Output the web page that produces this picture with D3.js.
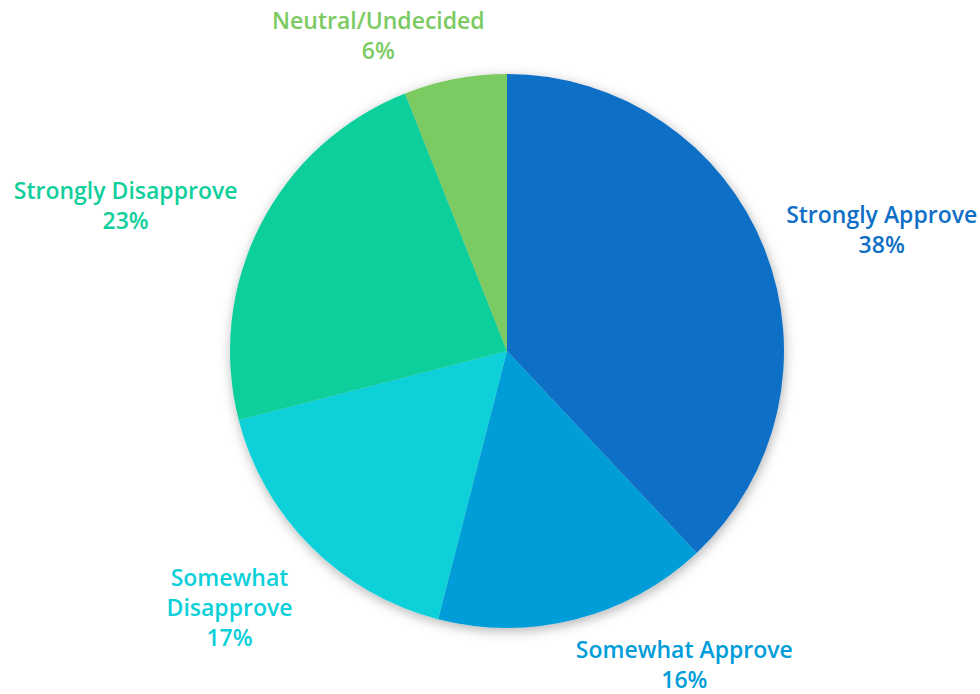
<!DOCTYPE html>
<html>
<head>
<meta charset="utf-8">
<script src="https://cdn.jsdelivr.net/npm/d3@7"></script>
<style>
  html, body { margin: 0; padding: 0; background: #fff; }
  svg { display: block; }
  .lbl { font-family: "Open Sans", "Liberation Sans", sans-serif; font-size: 23px; font-weight: 600; }
</style>
</head>
<body>
<svg id="chart"></svg>
<script>
// chart data, in drawing order (clockwise from 12 o'clock)
const categories = ["Strongly Approve", "Somewhat Approve", "Somewhat Disapprove", "Strongly Disapprove", "Neutral/Undecided"];
const shares = [38, 16, 17, 23, 6];
const colors = ["#0f6fc6", "#009dd9", "#0bd0d9", "#10cf9b", "#7cca62"];
// how each label is broken into lines
const labelLines = [
    ["Strongly Approve"],
    ["Somewhat Approve"],
    ["Somewhat", "Disapprove"],
    ["Strongly Disapprove"],
    ["Neutral/Undecided"]
];

const width = 980;
const height = 694;
const cx = 507, cy = 351, radius = 277;
const lineH = 30;
// small hand tweaks to where the outside labels ended up
const labelNudge = [[19, -3], [79, 8], [-30, 23], [-26, 0], [-55, -3]];

const svg = d3.select("#chart")
    .attr("width", width)
    .attr("height", height);

const defs = svg.append("defs");
const filter = defs.append("filter")
    .attr("id", "shadow")
    .attr("x", "-20%").attr("y", "-20%")
    .attr("width", "140%").attr("height", "140%");
filter.append("feDropShadow")
    .attr("dx", 1).attr("dy", 3)
    .attr("stdDeviation", 6)
    .attr("flood-color", "#000")
    .attr("flood-opacity", 0.3);

const pie = d3.pie().sort(null).value((d) => d);
const arcs = pie(shares);
const arc = d3.arc().innerRadius(0).outerRadius(radius);

const g = svg.append("g").attr("transform", `translate(${cx},${cy})`);

g.append("g")
    .attr("filter", "url(#shadow)")
    .selectAll("path")
    .data(arcs)
    .enter()
    .append("path")
    .attr("d", arc)
    .attr("fill", (d, i) => colors[i]);

// labels sit just outside the rim, pushed out along the slice's middle angle
const labels = g.append("g").selectAll("text")
    .data(arcs)
    .enter()
    .append("text")
    .attr("class", "lbl")
    .attr("text-anchor", "middle")
    .attr("fill", (d, i) => colors[i]);

labels.each(function(d, i) {
    const t = d3.select(this);
    const lines = labelLines[i].concat([d.data + "%"]);
    lines.forEach((s) => t.append("tspan").text(s));
    const tsp = t.selectAll("tspan");
    // measure
    const w = d3.max(tsp.nodes(), (n) => n.getComputedTextLength());
    const h = lines.length * lineH;
    const mid = (d.startAngle + d.endAngle) / 2;
    const dx = Math.sin(mid), dy = -Math.cos(mid);
    const px = (radius + 10) * dx, py = (radius + 10) * dy;
    const bx = px + dx * w / 2 + labelNudge[i][0];
    const by = py + dy * h / 2 + labelNudge[i][1];
    const top = by - h / 2;
    tsp.attr("x", bx)
        .attr("y", (s, k) => top + k * lineH + 22);
});
</script>
</body>
</html>
